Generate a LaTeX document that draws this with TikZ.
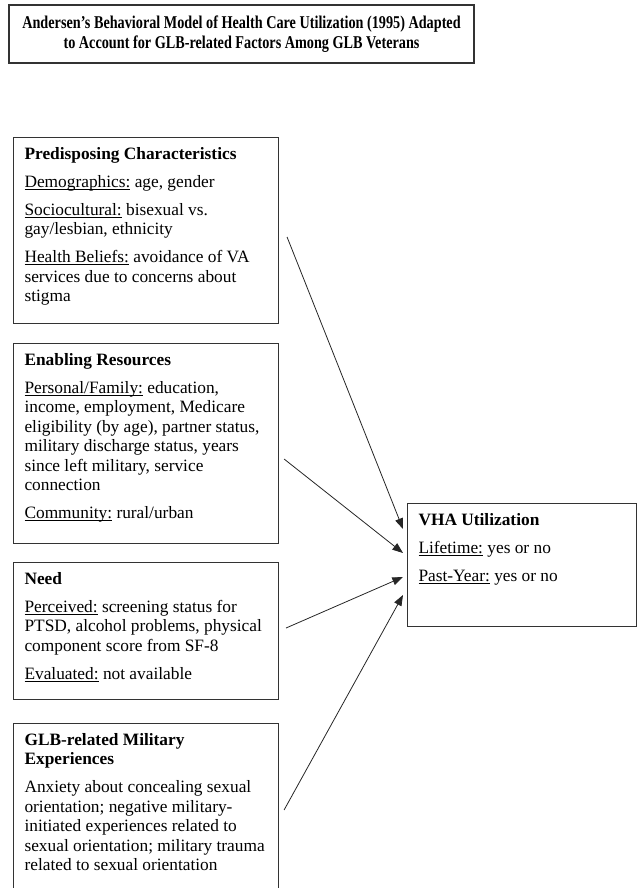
\documentclass[tikz,border=0pt]{standalone}
\usepackage{fontspec}
\setmainfont{Liberation Serif}
\usepackage{graphicx}
\usetikzlibrary{arrows.meta}

\newcommand{\bodyfont}{\fontsize{13pt}{14.6pt}\selectfont}
\newcommand{\headfont}{\fontsize{13.5pt}{15pt}\selectfont\bfseries}
% underlined label, rule at a fixed depth
\newcommand{\ulabel}[1]{\leavevmode\setbox0\hbox{#1}\rlap{\rule[-1.7pt]{\wd0}{0.6pt}}\box0\relax}
\newcommand{\squeeze}[1]{\scalebox{0.79}[1]{#1}}

\tikzset{
  factor/.style={shape=rectangle,draw=black!80,line width=0.8pt,anchor=north west,
    inner xsep=8.25pt,inner ysep=6pt,font=\bodyfont},
  link/.style={->,line width=0.6pt,draw=black!85}
}

\begin{document}
\begin{tikzpicture}[x=0.75pt,y=-0.75pt,>={Triangle[length=8pt,width=6pt]}]
\useasboundingbox (0,0) rectangle (637,888);

% title
\node(title) [shape=rectangle,draw=black!80,line width=0.8pt,minimum width=348.75pt,minimum height=43.5pt,inner sep=0pt,align=center,font=\headfont] at (241.5,34)
  {\squeeze{Andersen's Behavioral Model of Health Care Utilization (1995) Adapted}\\
   \squeeze{to Account for GLB-related Factors Among GLB Veterans}};

% factors
\node(pred) [factor] at (13,137) {\parbox[t][127.5pt][t]{182.25pt}{\raggedright\strut
  \textbf{Predisposing Characteristics}\\[6.4pt]
  \ulabel{Demographics:} age, gender\\[6.4pt]
  \ulabel{Sociocultural:} bisexual vs.\\
  gay/lesbian, ethnicity\\[6.4pt]
  \ulabel{Health Beliefs:} avoidance of VA\\
  services due to concerns about\\
  stigma}};
\node(enab) [factor] at (13,343) {\parbox[t][138pt][t]{182.25pt}{\raggedright\strut
  \textbf{Enabling Resources}\\[6.4pt]
  \ulabel{Personal/Family:} education,\\
  income, employment, Medicare\\
  eligibility (by age), partner status,\\
  military discharge status, years\\
  since left military, service\\
  connection\\[6.4pt]
  \ulabel{Community:} rural/urban}};
\node(need) [factor] at (13,562) {\parbox[t][90.75pt][t]{182.25pt}{\raggedright\strut
  \textbf{Need}\\[6.4pt]
  \ulabel{Perceived:} screening status for\\
  PTSD, alcohol problems, physical\\
  component score from SF-8\\[6.4pt]
  \ulabel{Evaluated:} not available}};
\node(glb) [factor] at (13,723) {\parbox[t][130pt][t]{182.25pt}{\raggedright\strut
  \textbf{GLB-related Military}\\
  \textbf{Experiences}\\[6.4pt]
  Anxiety about concealing sexual\\
  orientation; negative military-\\
  initiated experiences related to\\
  sexual orientation; military trauma\\
  related to sexual orientation}};

% outcome
\node(vha) [factor] at (407,503) {\parbox[t][80.25pt][t]{155.25pt}{\raggedright\strut
  \textbf{VHA Utilization}\\[6.4pt]
  \ulabel{Lifetime:} yes or no\\[6.4pt]
  \ulabel{Past-Year:} yes or no}};

% arrow ends
\coordinate(pred-out) at ([shift={(8,100)}]pred.north east);
\coordinate(enab-out) at ([shift={(5,116)}]enab.north east);
\coordinate(need-out) at ([shift={(7,66)}]need.north east);
\coordinate(glb-out) at ([shift={(5,87)}]glb.north east);
\coordinate(vha-in1) at ([shift={(-4,26)}]vha.north west);
\coordinate(vha-in2) at ([shift={(-4,50)}]vha.north west);
\coordinate(vha-in3) at ([shift={(-4,74)}]vha.north west);
\coordinate(vha-in4) at ([shift={(-4,92)}]vha.north west);

\draw [link] (pred-out) -- (vha-in1);
\draw [link] (enab-out) -- (vha-in2);
\draw [link] (need-out) -- (vha-in3);
\draw [link] (glb-out) -- (vha-in4);
\end{tikzpicture}
\end{document}
